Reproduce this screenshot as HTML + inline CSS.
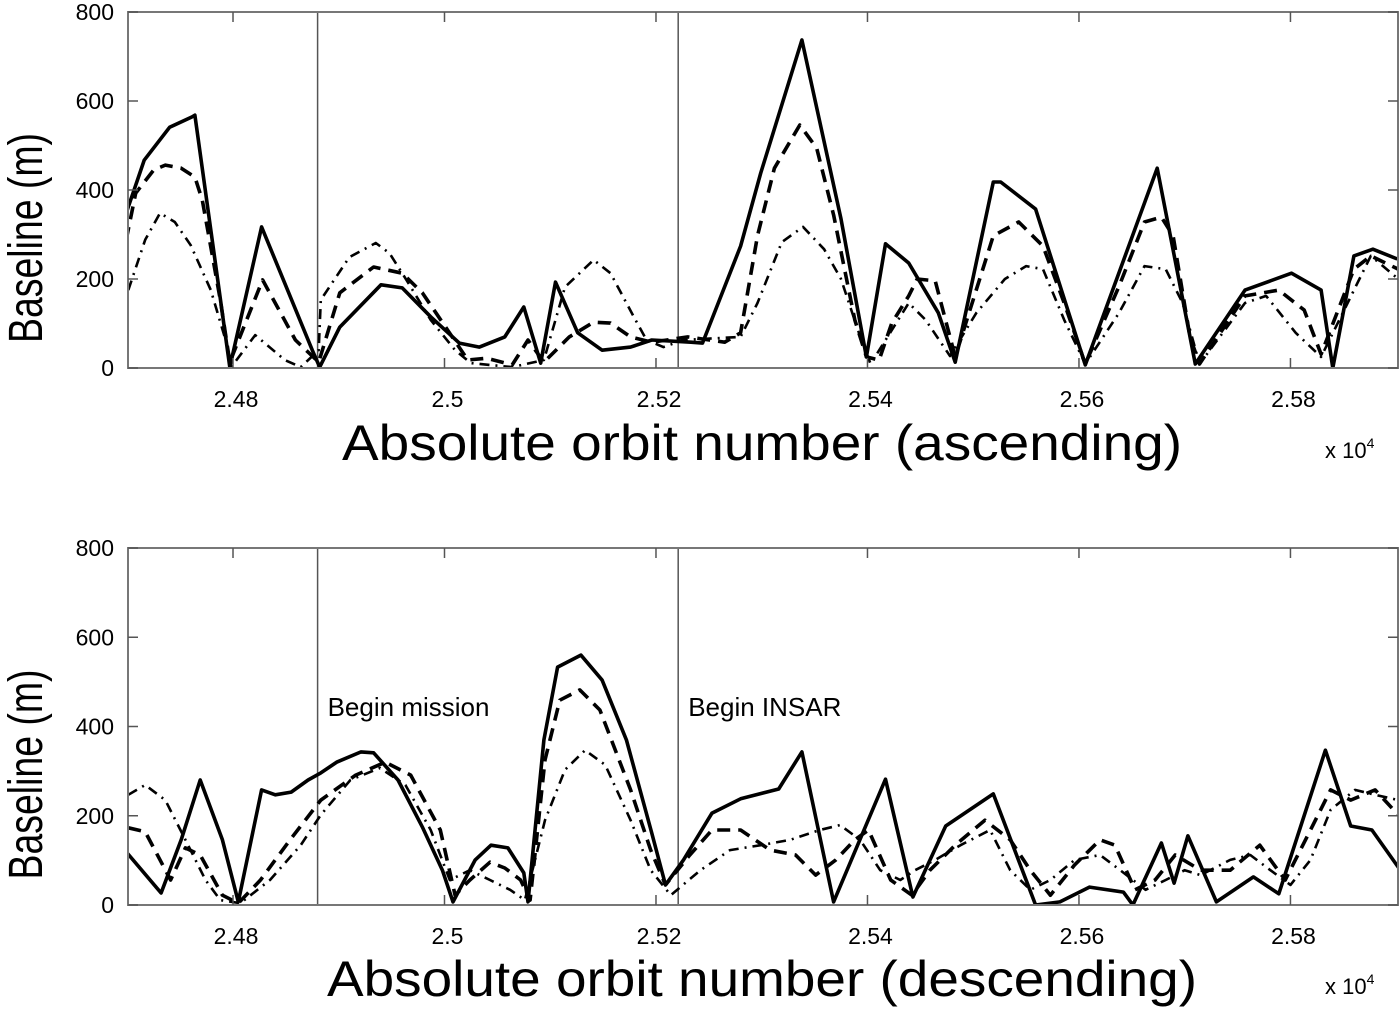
<!DOCTYPE html>
<html><head><meta charset="utf-8"><style>
html,body{margin:0;padding:0;background:#fff;}
svg{display:block;font-family:"Liberation Sans",sans-serif;}
</style></head><body>
<svg id="chart" width="1400" height="1010" viewBox="0 0 1400 1010" xmlns="http://www.w3.org/2000/svg">
<defs>
<clipPath id="clipTop"><rect x="128" y="12" width="1270" height="356"/></clipPath>
<clipPath id="clipBot"><rect x="128" y="548" width="1270" height="357"/></clipPath>
</defs>
</svg>
<script>
const xTicks = [24800, 25000, 25200, 25400, 25600, 25800];
const xTickLabels = ["2.48", "2.5", "2.52", "2.54", "2.56", "2.58"];
const yTicks = [0, 200, 400, 600, 800];
const yTickLabels = ["0", "200", "400", "600", "800"];
const eventOrbits = [24880, 25221];
const eventLabels = ["Begin mission", "Begin INSAR"];

const ascSolidX = [24699,24716,24740,24761,24764,24797,24827,24875,24882,24901,24940,24960,24987,25014,25033,25057,25075,25091,25105,25126,25149,25176,25196,25233,25244,25280,25299,25338,25375,25399,25417,25439,25467,25483,25519,25526,25559,25606,25674,25710,25757,25801,25829,25840,25860,25878,25901];
const ascSolidY = [348,467,541,564,568,2,317,40,2,92,187,180,115,56,47,70,137,11,193,79,40,47,63,58,56,274,438,737,335,25,279,236,124,13,418,418,357,7,449,9,175,213,175,0,252,267,245];
const ascDashX = [24699,24708,24725,24736,24751,24764,24771,24779,24788,24797,24828,24859,24881,24901,24933,24960,24979,25003,25022,25040,25064,25079,25094,25118,25141,25157,25176,25196,25230,25265,25280,25296,25312,25336,25352,25368,25388,25399,25411,25423,25439,25447,25464,25483,25519,25543,25566,25586,25606,25638,25662,25678,25689,25705,25714,25757,25789,25813,25829,25860,25876,25902];
const ascDashY = [288,393,445,456,449,429,377,272,153,13,198,63,13,169,227,213,169,85,18,22,7,63,13,70,103,101,70,58,70,58,79,297,449,546,494,344,108,25,18,101,162,200,196,25,297,328,274,146,9,184,328,339,297,70,9,162,175,130,31,222,252,222];
const ascDotX = [24701,24717,24731,24745,24760,24779,24793,24799,24821,24849,24864,24881,24883,24910,24935,24948,24964,24987,25010,25025,25064,25094,25114,25141,25157,25179,25191,25207,25226,25280,25296,25319,25339,25359,25375,25391,25403,25439,25455,25478,25503,25530,25550,25566,25586,25606,25638,25662,25682,25698,25714,25757,25777,25805,25829,25876,25902];
const ascDotY = [175,288,348,328,276,175,63,4,74,18,2,40,153,249,281,258,198,108,40,11,2,18,182,243,213,115,63,47,63,70,146,283,317,267,200,85,9,146,108,27,124,200,229,222,108,9,124,229,222,146,9,146,162,79,25,252,200];

const desSolidX = [24699,24732,24751,24769,24790,24805,24827,24840,24855,24871,24883,24898,24921,24933,24956,24979,24998,25008,25029,25044,25060,25075,25079,25094,25107,25129,25149,25172,25196,25209,25226,25253,25280,25316,25338,25368,25417,25443,25474,25519,25559,25582,25610,25642,25651,25678,25690,25703,25730,25765,25789,25833,25857,25877,25904];
const desSolidY = [119,27,146,280,146,7,258,247,253,280,296,320,343,341,280,175,78,7,101,134,128,72,7,370,533,560,504,370,161,45,101,206,238,260,343,7,282,18,177,249,0,7,40,29,0,139,49,155,7,63,25,347,177,168,78];
const desDashX = [24701,24717,24741,24755,24769,24790,24805,24826,24854,24883,24916,24944,24968,24996,25010,25024,25043,25057,25072,25081,25095,25109,25128,25147,25176,25195,25209,25232,25253,25280,25308,25332,25351,25370,25388,25401,25422,25442,25459,25483,25511,25535,25554,25573,25596,25620,25634,25653,25672,25691,25715,25743,25771,25795,25819,25838,25857,25880,25902];
const desDashY = [173,164,56,128,112,22,4,56,146,235,291,320,291,168,22,56,96,83,56,11,325,459,482,437,258,123,45,112,168,168,123,112,67,101,146,168,56,22,78,134,190,146,78,22,90,146,134,34,56,112,78,78,134,56,168,258,235,258,202];
const desDotX = [24701,24717,24736,24755,24774,24788,24807,24835,24864,24883,24911,24939,24963,24987,25005,25024,25043,25062,25076,25095,25114,25133,25152,25176,25195,25214,25242,25270,25299,25327,25355,25374,25393,25412,25431,25445,25464,25488,25516,25535,25554,25573,25596,25620,25639,25663,25682,25700,25715,25743,25762,25781,25800,25819,25838,25861,25880,25902];
const desDotY = [247,269,235,146,56,11,4,56,134,202,280,307,269,168,56,78,56,34,11,190,303,347,314,190,78,22,78,123,134,146,168,179,146,78,56,78,101,134,168,78,34,56,101,112,78,34,56,78,67,101,112,78,45,101,213,258,247,235];

const NS = "http://www.w3.org/2000/svg";
const svg = document.getElementById("chart");
const X0 = 128, X1 = 1398, XMIN = 24700.7, XMAX = 25901.7;
function xScale(o){ return X0 + (o - XMIN) / (XMAX - XMIN) * (X1 - X0); }
function mk(tag, attrs, parent){ const e = document.createElementNS(NS, tag); for (const k in attrs) e.setAttribute(k, attrs[k]); (parent||svg).appendChild(e); return e; }

function panel(top, bottom, clipId, prefix, series, xlabel, xlabelY, xlabelLen, tickY, annotate){
  const yScale = v => bottom - v / 800 * (bottom - top);
  const g = mk("g", {});
  
  
  eventOrbits.forEach((o, i) => {
    const l = mk("line", {x1: xScale(o), x2: xScale(o), y1: top, y2: bottom, stroke: "#555", "stroke-width": 1.5}, g);
    
    
    if (annotate) {
      const t = mk("text", {x: xScale(o) + 10, y: top + 168, "font-size": 26, fill: "#000"}, g);
      t.textContent = eventLabels[i];
      
      
    }
  });
  const cg = mk("g", {"clip-path": "url(#" + clipId + ")"}, g);
  series.forEach(s => {
    let d = "";
    s.x.forEach((o, i) => { d += (i ? "L" : "M") + xScale(o).toFixed(1) + "," + yScale(s.y[i]).toFixed(1); });
    const p = mk("path", {d: d, fill: "none", stroke: "#000", "stroke-width": s.w, "stroke-dasharray": s.dash, "stroke-linejoin": "round"}, cg);
    
    
  });
  const box = mk("rect", {x: X0, y: top, width: X1 - X0, height: bottom - top, fill: "none", stroke: "#777", "stroke-width": 2}, g);
  
  
  xTicks.forEach((o, i) => {
    const x = xScale(o);
    mk("line", {x1: x, x2: x, y1: bottom, y2: bottom - 10, stroke: "#555", "stroke-width": 1.5}, g);
    mk("line", {x1: x, x2: x, y1: top, y2: top + 10, stroke: "#555", "stroke-width": 1.5}, g);
    const t = mk("text", {x: x + 3, y: tickY, "font-size": 23, "text-anchor": "middle"}, g);
    t.textContent = xTickLabels[i];
    
    
  });
  yTicks.forEach((v, i) => {
    const y = yScale(v);
    mk("line", {x1: X0, x2: X0 + 10, y1: y, y2: y, stroke: "#555", "stroke-width": 1.5}, g);
    mk("line", {x1: X1, x2: X1 - 10, y1: y, y2: y, stroke: "#555", "stroke-width": 1.5}, g);
    const t = mk("text", {x: 114, y: y + 8, "font-size": 23, "text-anchor": "end"}, g);
    t.textContent = yTickLabels[i];
    
    
  });
  const xl = mk("text", {x: 762, y: xlabelY, "font-size": 50, "text-anchor": "middle", textLength: xlabelLen, lengthAdjust: "spacingAndGlyphs"}, g);
  xl.textContent = xlabel;
  
  
  const ex = mk("text", {x: 1325, y: xlabelY - 2, "font-size": 22}, g);
  ex.innerHTML = 'x 10<tspan dy="-10" font-size="14">4</tspan>';
  
  
  const cy = (top + bottom) / 2 + 48;
  const yl = mk("text", {x: 42, y: cy, "font-size": 48, "text-anchor": "middle", textLength: 210, lengthAdjust: "spacingAndGlyphs", transform: "rotate(-90 42 " + cy + ")"}, g);
  yl.textContent = "Baseline (m)";
  
  
}

panel(12, 368, "clipTop", "ascending", [
  {name: "dashdot-line", x: ascDotX, y: ascDotY, w: 2.6, dash: "10 6 2 6"},
  {name: "dashed-line", x: ascDashX, y: ascDashY, w: 3.6, dash: "13 8"},
  {name: "solid-line", x: ascSolidX, y: ascSolidY, w: 3.6, dash: "none"}
], "Absolute orbit number (ascending)", 460, 840, 407, false);

panel(548, 905, "clipBot", "descending", [
  {name: "dashdot-line", x: desDotX, y: desDotY, w: 2.6, dash: "10 6 2 6"},
  {name: "dashed-line", x: desDashX, y: desDashY, w: 3.6, dash: "13 8"},
  {name: "solid-line", x: desSolidX, y: desSolidY, w: 3.6, dash: "none"}
], "Absolute orbit number (descending)", 996, 870, 944, true);
</script>
</body></html>
